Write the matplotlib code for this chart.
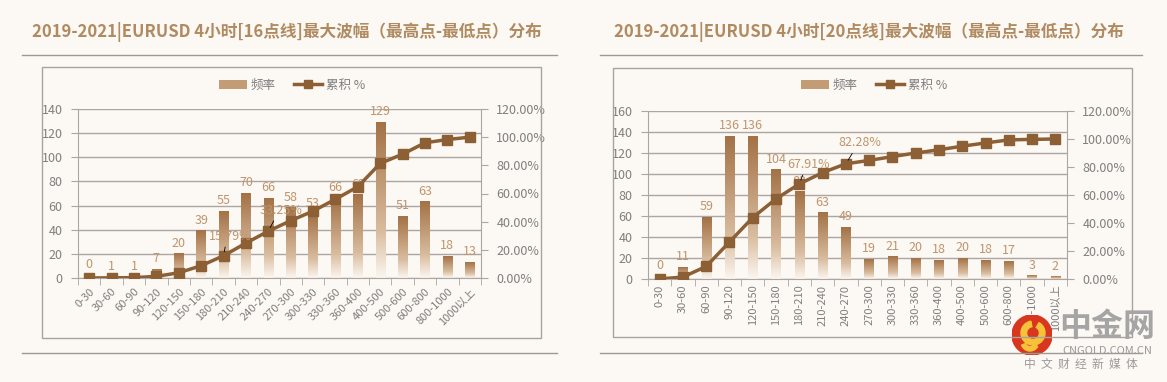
import matplotlib
matplotlib.use('Agg')
import matplotlib.pyplot as plt
import numpy as np
from matplotlib.colors import LinearSegmentedColormap
from matplotlib.lines import Line2D
from matplotlib.patches import Rectangle, Circle, Patch, Wedge

plt.rcParams['font.family'] = ['Noto Sans CJK SC', 'DejaVu Sans']

W, H = 1167, 382
BG = '#FCF8F3'
TITLE_C = '#B08A60'
LINE_C = '#8C5F35'
LABEL_C = '#BE956D'
TICK_C = '#7F7F7F'
GRID_C = '#ABA6A2'

categories_16 = ['0-30', '30-60', '60-90', '90-120', '120-150', '150-180', '180-210',
                 '210-240', '240-270', '270-300', '300-330', '330-360', '360-400',
                 '400-500', '500-600', '600-800', '800-1000', '1000以上']
freq_16 = [0, 1, 1, 7, 20, 39, 55, 70, 66, 58, 53, 66, 69, 129, 51, 63, 18, 13]
cum_16 = [0.0, 0.0013, 0.0026, 0.0116, 0.0372, 0.0873, 0.1579, 0.2478, 0.3325,
          0.4069, 0.4750, 0.5597, 0.6483, 0.8139, 0.8793, 0.9602, 0.9833, 1.0]

categories_20 = categories_16
freq_20 = [0, 11, 59, 136, 136, 104, 83, 63, 49, 19, 21, 20, 18, 20, 18, 17, 3, 2]
cum_20 = [0.0, 0.0141, 0.0899, 0.2644, 0.4390, 0.5725, 0.6791, 0.7599, 0.8228,
          0.8472, 0.8742, 0.8999, 0.9230, 0.9487, 0.9718, 0.9936, 0.9974, 1.0]

title_16 = '2019-2021|EURUSD 4小时[16点线]最大波幅（最高点-最低点）分布'
title_20 = '2019-2021|EURUSD 4小时[20点线]最大波幅（最高点-最低点）分布'

bar_cmap = LinearSegmentedColormap.from_list(
    'bar', [(0, '#FCF6F0'), (0.3, '#D9BC9F'), (1, '#A37145')])


def px_rect(x0, y0, x1, y1):
    return [x0 / W, 1 - y1 / H, (x1 - x0) / W, (y1 - y0) / H]


def fig_line(fig, x0, x1, y, color='#9E9893', lw=1.0):
    fig.add_artist(Line2D([x0 / W, x1 / W], [1 - y / H, 1 - y / H],
                          transform=fig.transFigure, color=color, lw=lw))


def draw_panel(fig, *, title, plot_px, box_px, line_px, title_xy, legend_xy,
               cats, freq, cum, ymax, rot, pct_labels, bar_w):
    # frame and decoration lines
    bx0, by0, bx1, by1 = box_px
    fig.add_artist(Rectangle((bx0 / W, 1 - by1 / H), (bx1 - bx0) / W, (by1 - by0) / H,
                             transform=fig.transFigure, fill=False,
                             edgecolor='#A9A39E', lw=1.0))
    lx0, lx1, ly_top, ly_bot = line_px
    fig_line(fig, lx0, lx1, ly_top)
    fig_line(fig, lx0, lx1, ly_bot)
    fig.text(title_xy[0] / W, 1 - title_xy[1] / H, title,
             ha='center', va='center', fontsize=12, fontweight='bold', color=TITLE_C)

    ax = fig.add_axes(px_rect(*plot_px))
    ax.set_facecolor('none')
    n = len(cats)
    x = np.arange(n)
    grad = np.linspace(0, 1, 256).reshape(-1, 1)
    for xi, h in zip(x, freq):
        if h > 0:
            ax.imshow(grad, extent=[xi - bar_w / 2, xi + bar_w / 2, 0, h], origin='lower',
                      aspect='auto', cmap=bar_cmap, zorder=2, interpolation='bicubic')
        ax.annotate(str(h), (xi, h), xytext=(0, 3 if h > 0 else 5),
                    textcoords='offset points', ha='center', va='bottom',
                    fontsize=9, color=LABEL_C, zorder=3)
    ax.set_xlim(-0.5, n - 0.5)
    ax.set_ylim(0, ymax)
    ax.set_yticks(np.arange(0, ymax + 1, 20))
    ax.yaxis.grid(True, color=GRID_C, lw=1.0, zorder=0)
    ax.set_axisbelow(True)
    ax.set_xticks(x)
    ax.set_xticklabels(cats, rotation=rot, fontsize=8, color=TICK_C,
                       ha='right' if rot == 45 else 'center',
                       rotation_mode='anchor' if rot == 45 else 'default')
    ax.set_xticks(np.arange(-0.5, n, 1), minor=True)
    ax.tick_params(axis='x', which='major', length=0, pad=6 if rot == 45 else 4)
    ax.tick_params(axis='x', which='minor', length=5, color=GRID_C, direction='out')
    ax.tick_params(axis='y', length=5, color=GRID_C, labelsize=9, labelcolor=TICK_C, pad=6)
    for s in ['top', 'right']:
        ax.spines[s].set_visible(False)
    ax.spines['left'].set_color(GRID_C)
    ax.spines['bottom'].set_color(GRID_C)

    ax2 = ax.twinx()
    ax2.plot(x, cum, color=LINE_C, lw=2.5, marker='s', ms=6.5, zorder=4)
    ax2.set_ylim(0, 1.2)
    ax2.set_yticks(np.arange(0, 1.21, 0.2))
    ax2.set_yticklabels([f'{v * 100:.2f}%' for v in np.arange(0, 1.21, 0.2)])
    ax2.tick_params(axis='y', length=5, color=GRID_C, labelsize=9, labelcolor=TICK_C, pad=6)
    for s in ['top', 'left', 'bottom']:
        ax2.spines[s].set_visible(False)
    ax2.spines['right'].set_color(GRID_C)
    for i, off in pct_labels:
        ax2.annotate(f'{cum[i] * 100:.2f}%', (x[i], cum[i]), xytext=off,
                     textcoords='offset points', ha='center', va='center',
                     fontsize=9, color=LABEL_C, zorder=5,
                     arrowprops=dict(arrowstyle='-', color='black', lw=0.6,
                                     shrinkA=1, shrinkB=3, relpos=(0.4, 0.1)))

    handles = [Patch(facecolor='#C39C76', edgecolor='none'),
               Line2D([], [], color=LINE_C, lw=2.5, marker='s', ms=6)]
    fig.legend(handles, ['频率', '累积 %'], loc='center', ncol=2, frameon=False,
               bbox_to_anchor=(legend_xy[0] / W, 1 - legend_xy[1] / H),
               fontsize=9, labelcolor=TICK_C, handlelength=2.2, columnspacing=1.5,
               handletextpad=0.3)
    return ax, ax2


fig = plt.figure(figsize=(W / 100, H / 100), dpi=100, facecolor=BG)

draw_panel(fig, title=title_16, plot_px=(78, 109, 481, 278), box_px=(42, 67, 541, 338),
           line_px=(22, 557, 55, 353), title_xy=(287, 32), legend_xy=(292, 85),
           cats=categories_16, freq=freq_16, cum=cum_16, ymax=140, rot=45,
           pct_labels=[(6, (5, 14)), (8, (9, 15))], bar_w=0.42)
draw_panel(fig, title=title_20, plot_px=(648, 111, 1067, 279), box_px=(613, 68, 1132, 337),
           line_px=(600, 1142, 55, 353), title_xy=(869, 32), legend_xy=(874, 85),
           cats=categories_20, freq=freq_20, cum=cum_20, ymax=160, rot=90,
           pct_labels=[(6, (7, 14)), (8, (10, 15))], bar_w=0.4)

# watermark logo
cx, cy, r = 1032, 335, 20
lax = fig.add_axes(px_rect(cx - r, cy - r, cx + r, cy + r))
lax.set_xlim(-1, 1)
lax.set_ylim(-1, 1)
lax.set_aspect('equal')
lax.axis('off')
lax.add_patch(Circle((0, 0), 1, color='#D8361E'))
lax.add_patch(Wedge((0.05, 0.1), 0.6, 100, 420, width=0.28, color='#F6C23A'))
lax.add_patch(Wedge((-0.1, -0.35), 0.45, 200, 330, width=0.22, color='#F6C23A'))
fig.text(1107 / W, 1 - 327 / H, '中金网', ha='center', va='center', fontsize=23,
         fontweight='bold', color='#A5A5A5', zorder=10)
fig.text(1107 / W, 1 - 351 / H, 'CNGOLD.COM.CN', ha='center', va='center', fontsize=8,
         color='#9A9A9A', zorder=10)
fig.text(1081 / W, 1 - 364 / H, '中  文  财  经  新  媒  体', ha='center', va='center',
         fontsize=8.5, color='#9A9A9A', zorder=10)

fig.savefig('out.png', dpi=100, facecolor=BG)
